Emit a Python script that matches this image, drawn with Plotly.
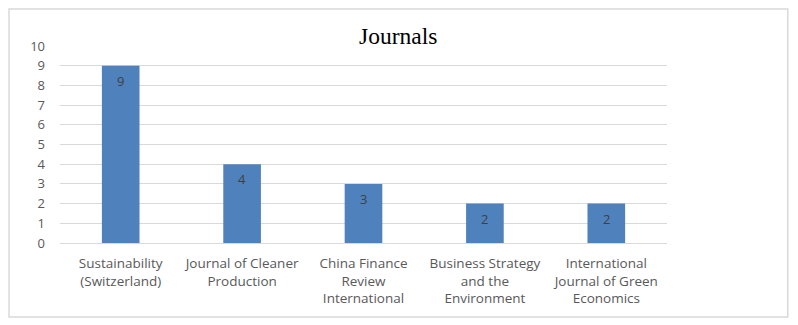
import plotly.graph_objects as go

journals = [
    "Sustainability<br>(Switzerland)",
    "Journal of Cleaner<br>Production",
    "China Finance<br>Review<br>International",
    "Business Strategy<br>and the<br>Environment",
    "International<br>Journal of Green<br>Economics",
]
counts = [9, 4, 3, 2, 2]
y_ticks = list(range(0, 11))

fig = go.Figure()
fig.add_trace(go.Bar(x=journals, y=counts, marker=dict(color="#4f81bd", line=dict(width=0)),
                     hoverinfo="skip"))

# data labels, a bit under the bar top like Excel "inside end"
for j, c in zip(journals, counts):
    fig.add_annotation(x=j, y=c, text=str(c), showarrow=False, yanchor="top", yshift=-4,
                       font=dict(family="Open Sans", size=13, color="#404040"))

# page body has an 8px margin, so the figure is a bit smaller than the window
fig.update_layout(
    width=790, height=317,
    margin=dict(l=52, r=131, t=38, b=82),
    paper_bgcolor="white", plot_bgcolor="white",
    bargap=0.69,
    showlegend=False,
    title=dict(text="Journals", x=0.494, xref="container", xanchor="center", y=0.912, yanchor="middle",
               font=dict(family="Liberation Serif", size=23.5, color="black")),
    shapes=[dict(type="rect", xref="paper", yref="paper", x0=-0.084, x1=1.199, y0=-0.376, y1=1.188,
                 line=dict(color="#d9d9d9", width=1.5))],
)
fig.update_xaxes(showgrid=False, showline=True, linecolor="#d9d9d9", linewidth=1,
                 tickfont=dict(family="Open Sans", size=13.5, color="#595959"), ticklabelstandoff=8)
fig.update_yaxes(range=[0, 10], tickvals=y_ticks, showgrid=True, gridcolor="#d9d9d9", gridwidth=1,
                 zeroline=False, showline=False,
                 tickfont=dict(family="Open Sans", size=13, color="#595959"), ticklabelstandoff=14)

fig.write_html("out.html")
